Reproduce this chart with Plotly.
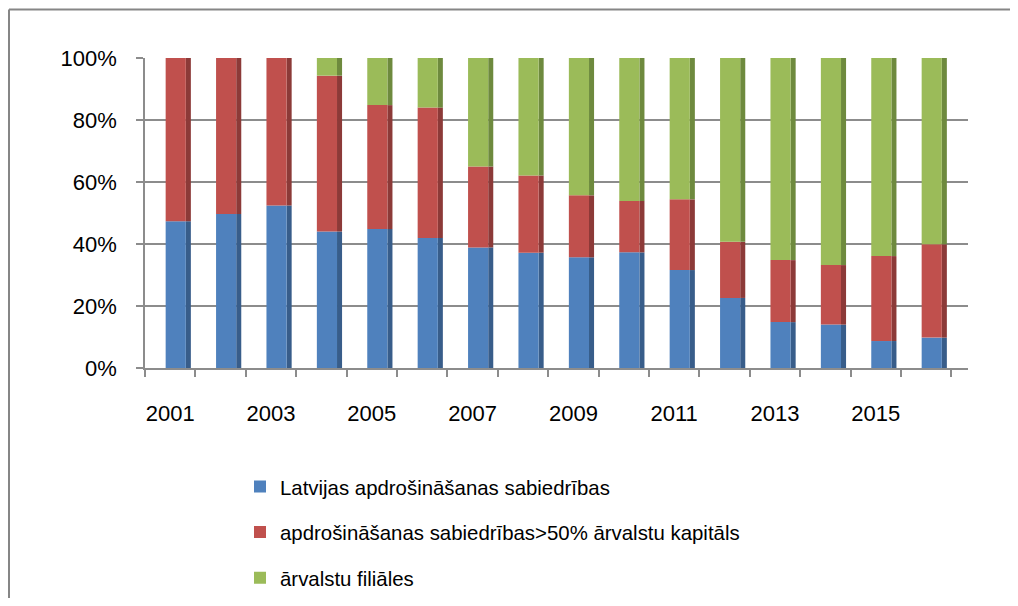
import plotly.graph_objects as go

years = list(range(2001, 2017))
latvian = [47.3, 49.7, 52.4, 44.0, 44.8, 41.9, 38.9, 37.2, 35.7, 37.3, 31.6, 22.6, 14.8, 14.0, 8.7, 9.8]
foreign_capital = [52.7, 50.3, 47.6, 50.3, 40.0, 42.1, 26.1, 24.9, 20.0, 16.6, 22.8, 18.1, 20.0, 19.2, 27.4, 30.1]
branches = [0.0, 0.0, 0.0, 5.7, 15.2, 16.0, 35.0, 37.9, 44.3, 46.1, 45.6, 59.3, 65.2, 66.8, 63.9, 60.1]

series_names = [
    "Latvijas apdrošināšanas sabiedrības",
    "apdrošināšanas sabiedrības>50% ārvalstu kapitāls",
    "ārvalstu filiāles",
]
front_colors = ["#4F81BD", "#C0504D", "#9BBB59"]
side_colors = ["#385D8A", "#8C3A38", "#6E8A3E"]
x_labels = ["2001", "2003", "2005", "2007", "2009", "2011", "2013", "2015"]
y_ticks = [0, 20, 40, 60, 80, 100]

FONT = "Liberation Sans, Arial, sans-serif"
GRID = "#8C8C8C"

fig = go.Figure()
series = [latvian, foreign_capital, branches]
bases = [0.0] * len(years)
for i, vals in enumerate(series):
    b = list(bases)
    # side face (depth)
    fig.add_trace(go.Bar(
        x=years, y=vals, base=b, width=0.1, offset=0.31,
        marker=dict(color=side_colors[i], line=dict(width=0)),
        showlegend=False, hoverinfo="skip",
    ))
    # front face
    fig.add_trace(go.Bar(
        x=years, y=vals, base=b, width=0.40, offset=-0.09,
        name=series_names[i], legendgroup=str(i),
        marker=dict(color=front_colors[i], line=dict(width=0)),
    ))
    bases = [bb + v for bb, v in zip(bases, vals)]

# page body has an 8px margin: figure origin sits at (8, 8) in the screenshot
OFF = 8
W, H = 1002, 590
L, T = 145 - OFF, 57.5 - OFF
R = W - (968 - OFF)
B = H - (368 - OFF)
pw, ph = W - L - R, H - T - B

def px_x(px):
    return (px - OFF - L) / pw

def px_y(py):
    return (H - B - (py - OFF)) / ph

fig.update_layout(
    width=W, height=H,
    margin=dict(l=L, r=R, t=T, b=B, autoexpand=False),
    paper_bgcolor="white", plot_bgcolor="white",
    barmode="overlay",
    font=dict(family=FONT, size=20, color="#000000"),
    showlegend=True,
    legend=dict(
        x=px_x(240), y=px_y(467), xanchor="left", yanchor="top",
        orientation="v", traceorder="grouped", tracegroupgap=16,
        font=dict(family=FONT, size=20.4, color="#000000"),
        bgcolor="rgba(0,0,0,0)",
    ),
    xaxis=dict(
        range=[2000.5, 2000.5 + pw / 50.4],
        tickmode="array", tickvals=[int(v) for v in x_labels], ticktext=x_labels,
        ticks="outside", ticklen=25, tickcolor="rgba(0,0,0,0)",
        minor=dict(tickvals=[y - 0.5 for y in years] + [years[-1] + 0.5],
                   ticks="outside", ticklen=7, tickcolor=GRID, tickwidth=1.5, showgrid=False),
        showgrid=False, zeroline=False,
        showline=True, linecolor=GRID, linewidth=1.5,
        tickfont=dict(family=FONT, size=22),
    ),
    yaxis=dict(
        range=[0, 100],
        tickmode="array", tickvals=y_ticks, ticktext=[f"{v}%" for v in y_ticks],
        ticks="outside", ticklen=7, tickcolor=GRID, tickwidth=1.5,
        ticklabelstandoff=15,
        showgrid=True, gridcolor=GRID, gridwidth=1.5,
        zeroline=False, showline=True, linecolor=GRID, linewidth=1.5,
        tickfont=dict(family=FONT, size=22),
    ),
    shapes=[
        dict(type="line", xref="paper", yref="paper",
             x0=px_x(9), x1=px_x(9), y0=px_y(9), y1=px_y(640),
             line=dict(color="#868686", width=2)),
        dict(type="line", xref="paper", yref="paper",
             x0=px_x(9), x1=px_x(1040), y0=px_y(9), y1=px_y(9),
             line=dict(color="#868686", width=2)),
    ],
)

fig.write_html("out.html")
